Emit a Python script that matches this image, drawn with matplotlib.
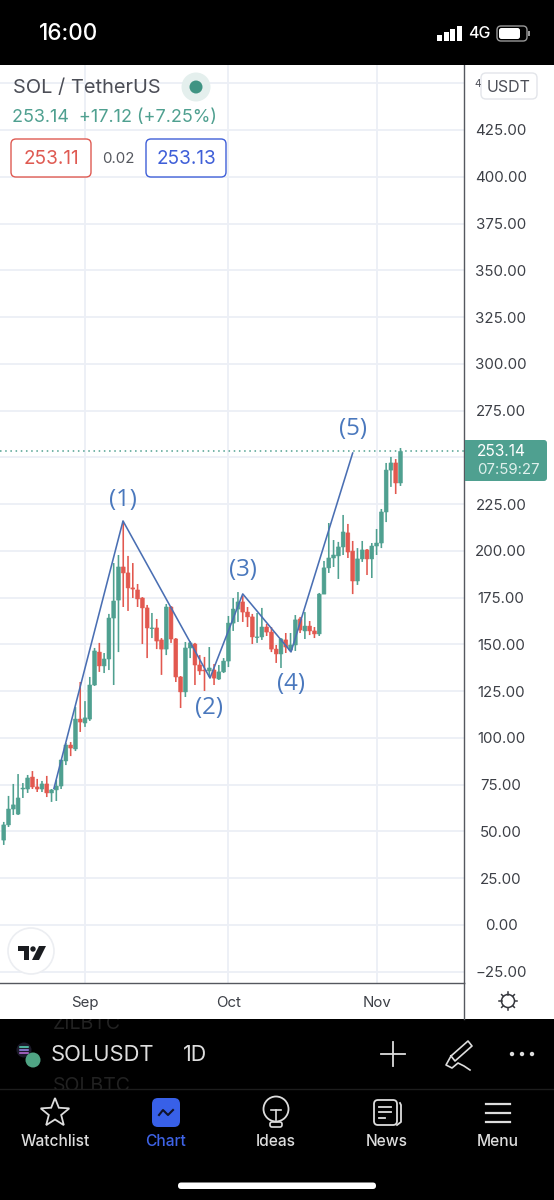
import matplotlib
matplotlib.use('Agg')
import matplotlib.pyplot as plt
from matplotlib.patches import FancyBboxPatch, Circle, Rectangle, Polygon
import numpy as np

plt.rcParams['font.family'] = ['Inter', 'Roboto', 'DejaVu Sans']

# ---- data -------------------------------------------------------------
first_day = -17   # days relative to 1 Sep
opens = [45.4,53.5,62.0,59.3,72.7,72.7,79.1,73.8,72.7,75.4,70.6,72.2,74.3,87.7,96.2,94.1,110.1,
         108.0,110.1,128.3,145.9,138.5,142.2,164.1,173.7,191.4,188.2,180.2,179.1,174.8,169.5,158.5,158.8,152.4,147.5,170.0,152.9,132.6,124.6,148.1,150.2,139.0,136.3,135.8,136.3,131.5,135.3,
         141.1,161.4,168.9,172.7,167.3,164.7,153.7,154.0,159.3,156.6,147.5,144.9,152.4,147.0,149.7,163.6,157.2,159.8,157.2,155.6,176.9,190.9,196.2,197.3,202.1,209.6,199.9,183.9,195.7,200.5,195.7,202.6,
         204.2,220.8,243.2,247.0,236.3]
highs = [55.1,69.0,75.4,80.7,75.9,80.2,82.3,78.1,77.0,79.7,72.7,77.5,88.2,97.3,97.8,116.5,129.9,
         119.7,132.6,148.1,150.8,145.4,166.3,193.5,197.8,216.0,197.3,193.5,182.3,175.3,171.1,166.8,163.6,153.4,171.6,170.5,153.4,133.1,151.3,151.8,150.8,144.3,143.3,148.6,139.5,139.0,142.7,
         165.2,174.8,178.0,175.9,170.0,166.3,166.8,169.5,160.9,159.3,149.7,153.4,156.1,156.1,165.7,164.7,167.3,162.5,159.3,177.5,194.6,214.9,205.8,204.8,219.2,214.4,205.3,201.5,205.3,201.0,204.2,211.7,
         222.4,247.0,250.2,249.1,255.0]
lows = [42.8,52.4,58.8,58.8,67.9,70.6,72.7,71.1,71.1,68.4,65.8,66.3,72.7,85.5,90.3,93.0,103.2,
        105.9,109.1,127.8,135.3,134.7,136.3,128.3,145.9,170.0,167.9,174.8,170.0,150.2,142.7,153.4,147.5,133.7,144.3,150.8,129.9,116.0,121.9,142.7,128.3,133.7,125.1,132.6,128.3,131.0,134.7,
        137.9,157.2,162.0,162.0,159.3,150.2,150.8,152.4,154.5,145.9,140.1,137.4,145.4,145.9,146.5,156.1,152.9,155.0,153.4,154.5,176.9,188.2,191.4,185.0,197.8,196.2,176.9,181.8,194.1,187.1,185.5,197.8,
        201.5,215.4,234.2,230.4,234.7]
closes = [53.5,62.0,64.2,67.9,73.2,78.6,73.8,72.7,75.4,70.6,72.2,74.3,88.2,96.2,94.6,110.1,108.5,
          110.7,128.3,146.5,138.5,142.2,164.1,173.2,191.4,188.2,180.2,179.6,174.3,169.5,158.8,158.8,151.8,147.5,170.0,152.9,132.6,124.6,148.1,150.8,139.0,135.8,135.8,137.4,132.0,135.3,141.1,
          161.4,168.9,172.7,167.3,164.7,154.0,154.0,159.3,156.6,147.5,144.9,152.9,148.6,149.7,163.1,157.7,159.8,157.2,155.6,176.9,190.9,196.2,197.8,202.1,210.1,199.4,183.9,195.7,200.5,195.7,202.6,204.2,
          220.8,243.2,247.0,236.3,253.14]
wave_days = [-6.5, 7.95, 26.15, 33.0, 43.1, 56.0]
wave_vals = [73.0, 216.0, 132.0, 177.0, 146.0, 252.3]
wave_labels = ['(1)', '(2)', '(3)', '(4)', '(5)']
wave_label_days = [8.0, 26.0, 33.0, 43.0, 56.0]
wave_label_vals = [227.0, 116.0, 190.0, 129.0, 265.0]
price_ticks = list(range(-25, 451, 25))
hidden_ticks = [250, 450]   # covered by the price tag and the USDT button
month_days = [0, 30, 61]
month_names = ['Sep', 'Oct', 'Nov']
last_price = 253.14
# -----------------------------------------------------------------------

W, H = 554, 1200
fig = plt.figure(figsize=(W/100, H/100), dpi=100, facecolor='white')
GREEN, RED = '#4fa090', '#e2584f'
GRID = '#ecEff6'
LINE = '#4a6fb3'
AXC = '#55585f'
px = 0.72

ax = fig.add_axes([0, 1-983/H, 464/W, (983-65)/H])
ax.set_xlim((0-85)/4.78, (464-85)/4.78)
ax.set_ylim((925-983)/1.8706, (925-65)/1.8706)
ax.grid(True, color=GRID, lw=1.3, zorder=0)
ax.set_axisbelow(True)
for s in ['top', 'left']:
    ax.spines[s].set_visible(False)
for s in ['right', 'bottom']:
    ax.spines[s].set_color(AXC)
    ax.spines[s].set_linewidth(1.0)
ax.yaxis.tick_right()
ax.set_yticks(price_ticks)
ax.set_yticklabels(['' if v in hidden_ticks else f'{v:.2f}'.replace('-', '\u2212') for v in price_ticks])
ax.tick_params(axis='y', length=0, pad=37*px, labelsize=15*px, labelcolor='#3c3f46')
for t in ax.get_yticklabels():
    t.set_ha('center')
ax.set_xticks(month_days)
ax.set_xticklabels(month_names)
ax.tick_params(axis='x', length=0, pad=13*px, labelsize=15*px, labelcolor='#3c3f46')

days = np.arange(len(opens)) + first_day
opens_, closes_ = np.array(opens), np.array(closes)
up = closes_ >= opens_
cols = [GREEN if u else RED for u in up]
wicks = ax.vlines(days, lows, highs, colors=cols, lw=1.6*px, zorder=3)
wicks.set_snap(False)
bars = ax.bar(days, np.abs(closes_-opens_), bottom=np.minimum(opens_, closes_), width=0.8,
              color=cols, edgecolor=cols, linewidth=0.4, zorder=4)
for b in bars:
    b.set_snap(False)
ax.axhline(last_price, color=GREEN, lw=1.1, ls=(0, (1, 2.4)), zorder=2)
ax.plot(wave_days, wave_vals, color=LINE, lw=1.15, zorder=5)
for d, v, s in zip(wave_label_days, wave_label_vals, wave_labels):
    ax.text(d, v, s, color='#4a78bd', fontsize=24*px, ha='center', va='center',
            family=['Open Sans', 'DejaVu Sans'], zorder=6)

# ---- app chrome drawn over the chart, in screen pixels -----------------
ui = fig.add_axes([0, 0, 1, 1], zorder=10)
ui.set_xlim(0, W); ui.set_ylim(H, 0); ui.axis('off'); ui.patch.set_alpha(0)

def box(x0, y0, x1, y1, r=4, fc='none', ec='none', lw=1, z=2):
    ui.add_patch(FancyBboxPatch((x0+r, y0+r), x1-x0-2*r, y1-y0-2*r, boxstyle=f'round,pad={r},rounding_size={r}',
                                fc=fc, ec=ec, lw=lw, zorder=z, mutation_aspect=1))
def T(x, y, s, size, c, ha='center', **k):
    return ui.text(x, y, s, fontsize=size*px, color=c, ha=ha, va='center', **k)

# status bar
ui.add_patch(Rectangle((0, 0), W, 65, fc='black', ec='none'))
T(69, 34, '16:00', 22.5, 'white', fontweight='medium')
for i, h_ in enumerate([6, 9, 12, 15]):
    ui.add_patch(Rectangle((437+i*6.5, 41-h_), 5, h_, fc='white', ec='none'))
T(479, 34, '4G', 16, 'white', fontweight='medium')
box(497, 26, 527, 41, r=4, ec='#999999', lw=1)
box(499, 28, 520, 39, r=2.5, fc='white')
ui.add_patch(Rectangle((528, 31), 1.8, 5, fc='#999999', ec='none'))

# legend
T(13, 88, 'SOL / TetherUS', 20, '#4c4e57', ha='left')
ui.add_patch(Circle((196, 87), 14.5, fc='#e4efed', ec='none'))
ui.add_patch(Circle((196, 87), 6.5, fc='#3f9483', ec='none', zorder=3))
T(12, 118, '253.14  +17.12 (+7.25%)', 18, GREEN, ha='left')
box(11, 139, 91, 177, r=5, fc='white', ec='#df5a52', lw=1.0)
T(51, 159, '253.11', 19, '#df5a52')
T(118, 159, '0.02', 15, '#55585f')
box(146, 139, 226, 177, r=5, fc='white', ec='#3f5fd8', lw=1.0)
T(186, 159, '253.13', 19, '#3f5fd8')

# USDT button and last price tag
T(478, 84, '4', 10, '#4c4e57')
box(481, 73, 537, 99, r=5, fc='white', ec='#e3e5ea', lw=1.0)
T(509, 87, 'USDT', 16, '#4c4e57')
box(470, 440, 547, 481, r=3, fc=GREEN)
ui.add_patch(Rectangle((464.5, 440), 10, 41, fc=GREEN, ec='none', zorder=2.1))
T(477, 452, '253.14', 15.5, 'white', ha='left', zorder=3)
T(477, 470, '07:59:27', 15, '#dff0ec', ha='left', zorder=3)

# axis gear
ui.add_patch(Circle((508, 1001), 6.5, fc='none', ec='#35373d', lw=1.1))
for a in np.arange(0, 360, 45):
    ui.plot([508+6.5*np.cos(np.radians(a)), 508+9*np.cos(np.radians(a))],
            [1001+6.5*np.sin(np.radians(a)), 1001+9*np.sin(np.radians(a))], color='#35373d', lw=1.1)
ui.plot([464, 464], [983, 1019], color=AXC, lw=1.0)

# TV logo
ui.add_patch(Circle((31, 951), 23, fc='white', ec='#eceef2', lw=1.2))
ui.add_patch(Polygon([(18, 946), (29, 946), (29, 960), (24, 960), (24, 951), (18, 951)], fc='#1a1c20', ec='none'))
ui.add_patch(Circle((33, 949), 2.7, fc='#1a1c20', ec='none'))
ui.add_patch(Polygon([(39, 946), (46, 946), (39, 960), (32, 960)], fc='#1a1c20', ec='none'))

# bottom bar
ui.add_patch(Rectangle((0, 1019), W, 181, fc='black', ec='none'))
clip = Rectangle((0, 1019), W, 70, transform=ui.transData)
for yy, s in ((1024, 'ZILBTC'), (1086, 'SOLBTC')):
    t = T(53, yy, s, 19.5, '#222222', ha='left')
    t.set_clip_on(True)
    t.set_clip_path(clip)
ui.plot([0, W], [1089, 1089], color='#1d1d1d', lw=1, zorder=2.6)
ui.add_patch(Circle((24, 1050), 7.5, fc='#1c1b2b', ec='none', zorder=3))
for yy, cc in zip((1047, 1050, 1053), ('#5ee0c0', '#9a8cf0', '#c070e0')):
    ui.plot([20, 28], [yy, yy], color=cc, lw=1.1, zorder=4)
ui.add_patch(Circle((33, 1060), 7.5, fc='#4fa484', ec='none', zorder=3))
T(51, 1055, 'SOLUSDT', 22, '#dddddd', ha='left')
T(183, 1055, '1D', 21.5, '#dddddd', ha='left')
ui.plot([381, 405], [1054, 1054], color='#dddddd', lw=1.3)
ui.plot([393, 393], [1042, 1066], color='#dddddd', lw=1.3)
# pen
ui.plot([451, 468, 472, 455, 451], [1056, 1041, 1046, 1061, 1056], color='#dddddd', lw=1.2)
ui.plot([451, 446, 452, 458, 464, 470], [1056, 1065, 1068, 1063, 1066, 1070], color='#dddddd', lw=1.2)
for xx in (512, 522, 532):
    ui.add_patch(Circle((xx, 1054), 2.2, fc='#dddddd', ec='none'))

z = 3
# star
ang = np.radians(np.arange(-90, 270, 36))
rad = np.array([15, 6.5]*5)
ui.add_patch(Polygon(np.c_[55+rad*np.cos(ang), 1113+rad*np.sin(ang)], fc='none', ec='#dddddd', lw=1.3, zorder=z))
# chart
box(152, 1098, 180, 1127, r=6, fc='#3860e8', z=z)
ui.plot([159, 163, 168, 173], [1115, 1110, 1115, 1110], color='#10132a', lw=1.5, zorder=z+1)
# bulb
ui.add_patch(Circle((276, 1109), 12.5, fc='none', ec='#dddddd', lw=1.3, zorder=z))
ui.plot([271, 281], [1110, 1110], color='#dddddd', lw=1.2, zorder=z)
ui.plot([276, 276], [1110, 1120], color='#dddddd', lw=1.2, zorder=z)
box(270, 1122, 282, 1127, r=2, ec='#dddddd', lw=1.2, z=z)
# news
box(374, 1100, 397, 1125, r=4, ec='#dddddd', lw=1.3, z=z)
ui.plot([400, 401, 401, 397], [1103, 1105, 1122, 1125], color='#dddddd', lw=1.3, zorder=z)
for yy, x1 in zip((1107, 1112, 1118), (391, 391, 385)):
    ui.plot([379, x1], [yy, yy], color='#dddddd', lw=1.3, zorder=z)
# menu
for yy in (1104, 1113, 1122):
    ui.plot([486, 510], [yy, yy], color='#dddddd', lw=1.6, zorder=z)
for xx, s, c in zip((55, 166, 276, 387, 498), ('Watchlist', 'Chart', 'Ideas', 'News', 'Menu'),
                    ('#dddddd', '#3e63e6', '#dddddd', '#dddddd', '#dddddd')):
    T(xx, 1141, s, 15.5, c, zorder=z, fontweight='medium')
box(178, 1182.5, 376, 1189, r=3.2, fc='white', z=z)

fig.savefig('out.png', dpi=100, facecolor='white')
